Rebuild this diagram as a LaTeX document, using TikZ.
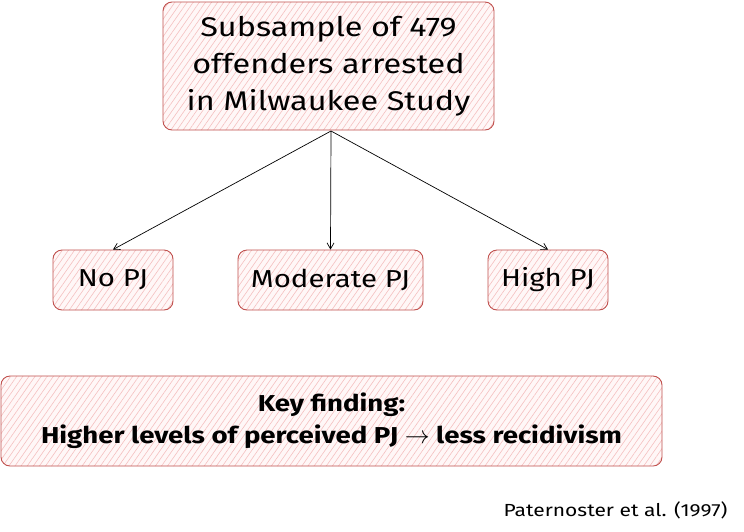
\documentclass[tikz,border=0pt]{standalone}
\usepackage{fontspec}
\setmainfont{Fira Sans}[FakeStretch=1.2]
\usetikzlibrary{arrows.meta,patterns.meta}
\definecolor{edgered}{HTML}{C0504D}
\definecolor{hatchpink}{HTML}{F5C0C0}
\begin{document}
\begin{tikzpicture}[x=1pt,y=-1pt,
    sketchbox/.style={draw=edgered, line width=0.9pt, rounded corners=9pt,
        preaction={fill=red!3},
        pattern={Lines[angle=55,distance=5pt,line width=0.6pt]},
        pattern color=hatchpink,
        align=center, inner sep=0pt},
    link/.style={-{Straight Barb[length=6pt,width=7pt]}, line width=0.7pt}]
    \useasboundingbox (0,0) rectangle (744,531);
    % top box
    \node[sketchbox, minimum width=331pt, minimum height=128pt,
        font=\fontsize{27}{37}\selectfont] (sample) at (328.5,66)
        {Subsample of 479\\offenders arrested\\in Milwaukee Study};
    % the three groups
    \node[sketchbox, minimum width=120pt, minimum height=60pt,
        font=\fontsize{24.5}{26}\selectfont] (nopj) at (113,280) {No PJ};
    \node[sketchbox, minimum width=185pt, minimum height=60pt,
        font=\fontsize{24.5}{26}\selectfont] (modpj) at (330.5,280) {Moderate PJ};
    \node[sketchbox, minimum width=120pt, minimum height=60pt,
        font=\fontsize{24.5}{26}\selectfont] (highpj) at (548,280) {High PJ};
    \coordinate (fork) at (331,131);
    \draw[link] (fork) -- (nopj.north);
    \draw[link] (fork) -- (modpj.north);
    \draw[link] (fork) -- (highpj.north);
    % finding
    \node[sketchbox, minimum width=661pt, minimum height=90pt,
        font=\fontsize{23}{32}\selectfont\bfseries] (finding) at (331.5,421)
        {Key finding:\\Higher levels of perceived PJ $\rightarrow$ less recidivism};
    \node[anchor=east, font=\fontsize{17.5}{20}\selectfont] (cite) at (731,510)
        {Paternoster et al. (1997)};
\end{tikzpicture}
\end{document}
